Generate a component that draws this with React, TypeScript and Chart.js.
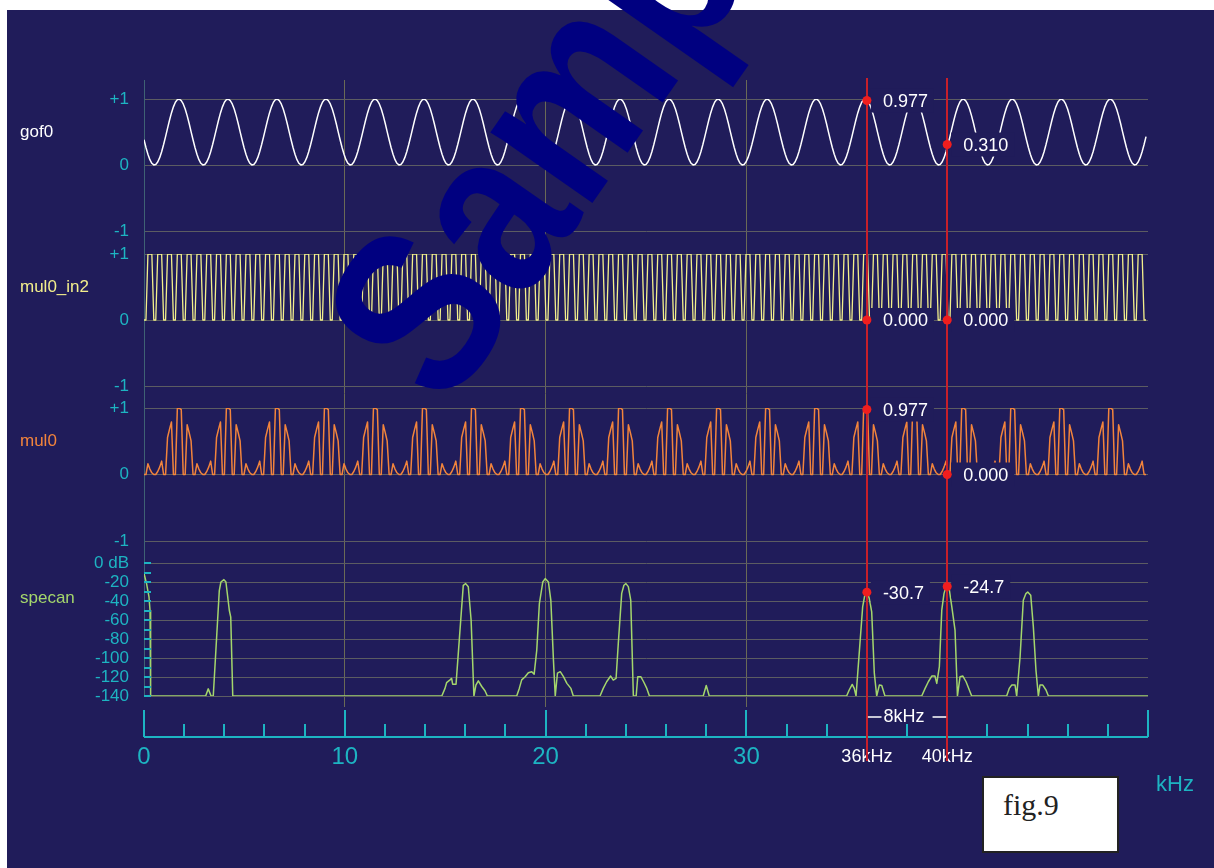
import React, { useEffect, useRef } from 'react';
import { Chart, registerables } from 'chart.js';

Chart.register(...registerables);

// ---------- data ----------
const X_MAX = 50; // kHz span of the common x axis

// gof0: sampled raised sine (512 samples across the window)
const gof0 = [
  0.382,0.265,0.162,0.081,0.026,0.001,0.008,0.045,0.111,0.201,0.310,0.431,0.556,0.678,0.789,0.881,0.950,0.990,0.999,0.976,0.925,0.848,0.748,0.633,0.506,
  0.382,0.265,0.162,0.081,0.026,0.001,0.008,0.045,0.111,0.201,0.310,0.431,0.556,0.678,0.789,0.881,0.950,0.990,0.999,0.976,0.925,0.848,0.748,0.633,0.506,
  0.382,0.265,0.162,0.081,0.026,0.001,0.008,0.045,0.111,0.201,0.310,0.431,0.556,0.678,0.789,0.881,0.950,0.990,0.999,0.976,0.925,0.848,0.748,0.633,0.506,
  0.382,0.265,0.162,0.081,0.026,0.001,0.008,0.045,0.111,0.201,0.310,0.431,0.556,0.678,0.789,0.881,0.950,0.990,0.999,0.976,0.925,0.848,0.748,0.633,0.506,
  0.382,0.265,0.162,0.081,0.026,0.001,0.008,0.045,0.111,0.201,0.310,0.431,0.556,0.678,0.789,0.881,0.950,0.990,0.999,0.976,0.925,0.848,0.748,0.633,0.506,
  0.382,0.265,0.162,0.081,0.026,0.001,0.008,0.045,0.111,0.201,0.310,0.431,0.556,0.678,0.789,0.881,0.950,0.990,0.999,0.976,0.925,0.848,0.748,0.633,0.506,
  0.382,0.265,0.162,0.081,0.026,0.001,0.008,0.045,0.111,0.201,0.310,0.431,0.556,0.678,0.789,0.881,0.950,0.990,0.999,0.976,0.925,0.848,0.748,0.633,0.506,
  0.382,0.265,0.162,0.081,0.026,0.001,0.008,0.045,0.111,0.201,0.310,0.431,0.556,0.678,0.789,0.881,0.950,0.990,0.999,0.976,0.925,0.848,0.748,0.633,0.506,
  0.382,0.265,0.162,0.081,0.026,0.001,0.008,0.045,0.111,0.201,0.310,0.431,0.556,0.678,0.789,0.881,0.950,0.990,0.999,0.976,0.925,0.848,0.748,0.633,0.506,
  0.382,0.265,0.162,0.081,0.026,0.001,0.008,0.045,0.111,0.201,0.310,0.431,0.556,0.678,0.789,0.881,0.950,0.990,0.999,0.976,0.925,0.848,0.748,0.633,0.506,
  0.382,0.265,0.162,0.081,0.026,0.001,0.008,0.045,0.111,0.201,0.310,0.431,0.556,0.678,0.789,0.881,0.950,0.990,0.999,0.976,0.925,0.848,0.748,0.633,0.506,
  0.382,0.265,0.162,0.081,0.026,0.001,0.008,0.045,0.111,0.201,0.310,0.431,0.556,0.678,0.789,0.881,0.950,0.990,0.999,0.976,0.925,0.848,0.748,0.633,0.506,
  0.382,0.265,0.162,0.081,0.026,0.001,0.008,0.045,0.111,0.201,0.310,0.431,0.556,0.678,0.789,0.881,0.950,0.990,0.999,0.976,0.925,0.848,0.748,0.633,0.506,
  0.382,0.265,0.162,0.081,0.026,0.001,0.008,0.045,0.111,0.201,0.310,0.431,0.556,0.678,0.789,0.881,0.950,0.990,0.999,0.976,0.925,0.848,0.748,0.633,0.506,
  0.382,0.265,0.162,0.081,0.026,0.001,0.008,0.045,0.111,0.201,0.310,0.431,0.556,0.678,0.789,0.881,0.950,0.990,0.999,0.976,0.925,0.848,0.748,0.633,0.506,
  0.382,0.265,0.162,0.081,0.026,0.001,0.008,0.045,0.111,0.201,0.310,0.431,0.556,0.678,0.789,0.881,0.950,0.990,0.999,0.976,0.925,0.848,0.748,0.633,0.506,
  0.382,0.265,0.162,0.081,0.026,0.001,0.008,0.045,0.111,0.201,0.310,0.431,0.556,0.678,0.789,0.881,0.950,0.990,0.999,0.976,0.925,0.848,0.748,0.633,0.506,
  0.382,0.265,0.162,0.081,0.026,0.001,0.008,0.045,0.111,0.201,0.310,0.431,0.556,0.678,0.789,0.881,0.950,0.990,0.999,0.976,0.925,0.848,0.748,0.633,0.506,
  0.382,0.265,0.162,0.081,0.026,0.001,0.008,0.045,0.111,0.201,0.310,0.431,0.556,0.678,0.789,0.881,0.950,0.990,0.999,0.976,0.925,0.848,0.748,0.633,0.506,
  0.382,0.265,0.162,0.081,0.026,0.001,0.008,0.045,0.111,0.201,0.310,0.431,0.556,0.678,0.789,0.881,0.950,0.990,0.999,0.976,0.925,0.848,0.748,0.633,0.506,
  0.382,0.265,0.162,0.081,0.026,0.001,0.008,0.045,0.111,0.201,0.310,0.431,
];

// mul0_in2: sampled square wave
const mul0In2 = [
  0,0,1,1,1,0,0,1,1,1,0,0,1,1,1,0,0,1,1,1,0,0,1,1,1,
  0,0,1,1,1,0,0,1,1,1,0,0,1,1,1,0,0,1,1,1,0,0,1,1,1,
  0,0,1,1,1,0,0,1,1,1,0,0,1,1,1,0,0,1,1,1,0,0,1,1,1,
  0,0,1,1,1,0,0,1,1,1,0,0,1,1,1,0,0,1,1,1,0,0,1,1,1,
  0,0,1,1,1,0,0,1,1,1,0,0,1,1,1,0,0,1,1,1,0,0,1,1,1,
  0,0,1,1,1,0,0,1,1,1,0,0,1,1,1,0,0,1,1,1,0,0,1,1,1,
  0,0,1,1,1,0,0,1,1,1,0,0,1,1,1,0,0,1,1,1,0,0,1,1,1,
  0,0,1,1,1,0,0,1,1,1,0,0,1,1,1,0,0,1,1,1,0,0,1,1,1,
  0,0,1,1,1,0,0,1,1,1,0,0,1,1,1,0,0,1,1,1,0,0,1,1,1,
  0,0,1,1,1,0,0,1,1,1,0,0,1,1,1,0,0,1,1,1,0,0,1,1,1,
  0,0,1,1,1,0,0,1,1,1,0,0,1,1,1,0,0,1,1,1,0,0,1,1,1,
  0,0,1,1,1,0,0,1,1,1,0,0,1,1,1,0,0,1,1,1,0,0,1,1,1,
  0,0,1,1,1,0,0,1,1,1,0,0,1,1,1,0,0,1,1,1,0,0,1,1,1,
  0,0,1,1,1,0,0,1,1,1,0,0,1,1,1,0,0,1,1,1,0,0,1,1,1,
  0,0,1,1,1,0,0,1,1,1,0,0,1,1,1,0,0,1,1,1,0,0,1,1,1,
  0,0,1,1,1,0,0,1,1,1,0,0,1,1,1,0,0,1,1,1,0,0,1,1,1,
  0,0,1,1,1,0,0,1,1,1,0,0,1,1,1,0,0,1,1,1,0,0,1,1,1,
  0,0,1,1,1,0,0,1,1,1,0,0,1,1,1,0,0,1,1,1,0,0,1,1,1,
  0,0,1,1,1,0,0,1,1,1,0,0,1,1,1,0,0,1,1,1,0,0,1,1,1,
  0,0,1,1,1,0,0,1,1,1,0,0,1,1,1,0,0,1,1,1,0,0,1,1,1,
  0,0,1,1,1,0,0,1,1,1,0,0,
];

// mul0: multiplier output
const mul0 = [
  0,0,0.162,0.081,0.026,0,0,0.045,0.111,0.201,0,0,0.556,0.678,0.789,0,0,0.990,0.999,0.976,0,0,0.748,0.633,0.506,
  0,0,0.162,0.081,0.026,0,0,0.045,0.111,0.201,0,0,0.556,0.678,0.789,0,0,0.990,0.999,0.976,0,0,0.748,0.633,0.506,
  0,0,0.162,0.081,0.026,0,0,0.045,0.111,0.201,0,0,0.556,0.678,0.789,0,0,0.990,0.999,0.976,0,0,0.748,0.633,0.506,
  0,0,0.162,0.081,0.026,0,0,0.045,0.111,0.201,0,0,0.556,0.678,0.789,0,0,0.990,0.999,0.976,0,0,0.748,0.633,0.506,
  0,0,0.162,0.081,0.026,0,0,0.045,0.111,0.201,0,0,0.556,0.678,0.789,0,0,0.990,0.999,0.976,0,0,0.748,0.633,0.506,
  0,0,0.162,0.081,0.026,0,0,0.045,0.111,0.201,0,0,0.556,0.678,0.789,0,0,0.990,0.999,0.976,0,0,0.748,0.633,0.506,
  0,0,0.162,0.081,0.026,0,0,0.045,0.111,0.201,0,0,0.556,0.678,0.789,0,0,0.990,0.999,0.976,0,0,0.748,0.633,0.506,
  0,0,0.162,0.081,0.026,0,0,0.045,0.111,0.201,0,0,0.556,0.678,0.789,0,0,0.990,0.999,0.976,0,0,0.748,0.633,0.506,
  0,0,0.162,0.081,0.026,0,0,0.045,0.111,0.201,0,0,0.556,0.678,0.789,0,0,0.990,0.999,0.976,0,0,0.748,0.633,0.506,
  0,0,0.162,0.081,0.026,0,0,0.045,0.111,0.201,0,0,0.556,0.678,0.789,0,0,0.990,0.999,0.976,0,0,0.748,0.633,0.506,
  0,0,0.162,0.081,0.026,0,0,0.045,0.111,0.201,0,0,0.556,0.678,0.789,0,0,0.990,0.999,0.976,0,0,0.748,0.633,0.506,
  0,0,0.162,0.081,0.026,0,0,0.045,0.111,0.201,0,0,0.556,0.678,0.789,0,0,0.990,0.999,0.976,0,0,0.748,0.633,0.506,
  0,0,0.162,0.081,0.026,0,0,0.045,0.111,0.201,0,0,0.556,0.678,0.789,0,0,0.990,0.999,0.976,0,0,0.748,0.633,0.506,
  0,0,0.162,0.081,0.026,0,0,0.045,0.111,0.201,0,0,0.556,0.678,0.789,0,0,0.990,0.999,0.976,0,0,0.748,0.633,0.506,
  0,0,0.162,0.081,0.026,0,0,0.045,0.111,0.201,0,0,0.556,0.678,0.789,0,0,0.990,0.999,0.976,0,0,0.748,0.633,0.506,
  0,0,0.162,0.081,0.026,0,0,0.045,0.111,0.201,0,0,0.556,0.678,0.789,0,0,0.990,0.999,0.976,0,0,0.748,0.633,0.506,
  0,0,0.162,0.081,0.026,0,0,0.045,0.111,0.201,0,0,0.556,0.678,0.789,0,0,0.990,0.999,0.976,0,0,0.748,0.633,0.506,
  0,0,0.162,0.081,0.026,0,0,0.045,0.111,0.201,0,0,0.556,0.678,0.789,0,0,0.990,0.999,0.976,0,0,0.748,0.633,0.506,
  0,0,0.162,0.081,0.026,0,0,0.045,0.111,0.201,0,0,0.556,0.678,0.789,0,0,0.990,0.999,0.976,0,0,0.748,0.633,0.506,
  0,0,0.162,0.081,0.026,0,0,0.045,0.111,0.201,0,0,0.556,0.678,0.789,0,0,0.990,0.999,0.976,0,0,0.748,0.633,0.506,
  0,0,0.162,0.081,0.026,0,0,0.045,0.111,0.201,0,0,
];

// specan: spectrum vertices (kHz, dB)
const specKhz = [
  0, 0.13, 0.25, 0.30, 0.33,
  3.07, 3.20, 3.34, 3.45, 3.75, 3.83, 3.98, 4.08, 4.25, 4.32, 4.42,
  14.83, 14.99, 15.07, 15.24, 15.32, 15.37, 15.54, 15.90, 16.02, 16.15, 16.29, 16.43, 16.53, 16.65, 16.82, 16.98, 17.10,
  18.56, 18.69, 18.81, 18.98, 19.14, 19.31, 19.43, 19.56, 19.69, 19.86, 19.98, 20.14, 20.26, 20.39, 20.48, 20.59, 20.73, 20.89, 21.06, 21.26, 21.38,
  22.71, 22.87, 23.04, 23.24, 23.37, 23.51, 23.62, 23.79, 23.90, 24.00, 24.12, 24.24, 24.37, 24.51, 24.59, 24.74, 24.88, 25.04, 25.17,
  27.85, 28.00, 28.15,
  34.99, 35.12, 35.27, 35.37, 35.46, 35.63, 35.79, 35.91, 35.99, 36.12, 36.24, 36.37, 36.49, 36.62, 36.74, 36.90,
  38.73, 38.90, 39.06, 39.23, 39.39, 39.48, 39.61, 39.73, 39.84, 39.98, 40.11, 40.23, 40.39, 40.51, 40.64, 40.78, 40.94, 41.22,
  42.96, 43.09, 43.21, 43.38, 43.46, 43.63, 43.79, 43.92, 44.01, 44.16, 44.29, 44.42, 44.54, 44.62, 44.76, 44.92, 45.04,
  50,
];
const specDb = [
  -11, -22, -36, -50, -140,
  -140, -132.5, -140, -140, -29, -20, -17.5, -20, -50, -57, -140,
  -140, -132, -126, -123, -121.5, -127.5, -127.5, -23.5, -21.7, -25, -60, -140, -128.5, -124, -130, -134.5, -140,
  -140, -132, -123, -119.7, -115.5, -114.4, -117, -91.7, -42.7, -20, -16.4, -20, -39, -102, -140, -116, -114.4, -119.7, -126.7, -132, -140,
  -140, -132, -125, -119, -123.2, -121.5, -84.7, -32, -23.4, -21.7, -24.9, -39, -140, -140, -119.7, -119.7, -125, -132, -140,
  -140, -129, -140,
  -140, -133.7, -127.8, -132, -140, -91.7, -46.2, -32.2, -29.4, -37.4, -51.5, -116, -140, -128.5, -129, -140,
  -140, -132, -125, -119, -119, -126.7, -109, -49.7, -32.2, -21.7, -28.7, -46.2, -70.7, -140, -119.7, -119, -125, -140,
  -140, -132, -128.5, -128.5, -140, -98.7, -39.2, -32.2, -30.5, -33.9, -67.2, -112.7, -140, -128.5, -128.5, -133.7, -140,
  -140,
];

// cursors and read-outs
const cursorKhz = [36, 40];
const cursorTickLabels = ['36kHz', '40kHz'];
const gofRead = [0.977, 0.310];
const in2Read = [0.000, 0.000];
const mulRead = [0.977, 0.000];
const specRead = [-30.7, -24.7];
const spanLabel = '8kHz';

// axis ticks
const xNumberLabels: Record<number, string> = { 0: '0', 10: '10', 20: '20', 30: '30' };
const specMinorTicks = [0, -10, -20, -30, -40, -50, -60, -70, -80, -90, -100, -110, -120, -130, -140];

// ---------- styles ----------
const NAVY = '#201c5a';
const TEAL = '#1db4c2';
const GRID = '#5c5c62';
const VGRID = '#6a6a56';
const AXIS = '#3f6274';
const WHITE = '#ffffff';
const YELLOW = '#f3ef8c';
const ORANGE = '#f2843c';
const GREEN = '#a4d66c';
const RED_LINE = '#c81f2a';
const RED_DOT = '#f01e1e';
const FONT = "'Liberation Sans', Arial, Helvetica, sans-serif";

const panels = [
  { axis: 'yGof', name: 'gof0', color: WHITE, nameAt: 0.5, reads: gofRead, digits: 3 },
  { axis: 'yIn2', name: 'mul0_in2', color: YELLOW, nameAt: 0.5, reads: in2Read, digits: 3 },
  { axis: 'yMul', name: 'mul0', color: ORANGE, nameAt: 0.5, reads: mulRead, digits: 3 },
  { axis: 'ySpec', name: 'specan', color: GREEN, nameAt: -37, reads: specRead, digits: 1 },
];

const timePoints = (arr: number[]) => arr.map((v, i) => ({ x: (i * X_MAX) / arr.length, y: v }));

const overlayPlugin = {
  id: 'overlay',
  afterDatasetsDraw(chart: any) {
    const { ctx, chartArea: area, scales } = chart;
    const xs = scales.x;
    const axisY = area.bottom + 30;
    ctx.save();

    // dB minor ticks on the spectrum axis
    ctx.strokeStyle = TEAL;
    ctx.lineWidth = 2;
    specMinorTicks.forEach((v) => {
      const y = Math.round(scales.ySpec.getPixelForValue(v));
      ctx.beginPath();
      ctx.moveTo(area.left, y);
      ctx.lineTo(area.left + 7, y);
      ctx.stroke();
    });

    // bottom frequency axis line + ticks
    ctx.beginPath();
    ctx.moveTo(xs.getPixelForValue(0), axisY);
    ctx.lineTo(xs.getPixelForValue(X_MAX), axisY);
    ctx.stroke();
    xs.ticks.forEach((t: any) => {
      const x = Math.round(xs.getPixelForValue(t.value));
      const top = t.value % 10 === 0 ? area.bottom + 3 : area.bottom + 17;
      ctx.beginPath();
      ctx.moveTo(x, top);
      ctx.lineTo(x, axisY);
      ctx.stroke();
    });

    // cursor lines
    ctx.strokeStyle = RED_LINE;
    ctx.lineWidth = 2;
    cursorKhz.forEach((c) => {
      const x = Math.round(xs.getPixelForValue(c));
      ctx.beginPath();
      ctx.moveTo(x, area.top - 2);
      ctx.lineTo(x, axisY + 24);
      ctx.stroke();
    });

    // span dimension
    const x1 = xs.getPixelForValue(cursorKhz[0]);
    const x2 = xs.getPixelForValue(cursorKhz[1]);
    const dy = area.bottom + 10;
    ctx.font = `18px ${FONT}`;
    const sw = ctx.measureText(spanLabel).width;
    const mid = (x1 + x2) / 2 - 3;
    ctx.strokeStyle = WHITE;
    ctx.lineWidth = 1.5;
    ctx.beginPath();
    ctx.moveTo(x1 + 1, dy);
    ctx.lineTo(mid - sw / 2 - 2, dy);
    ctx.moveTo(mid + sw / 2 + 8, dy);
    ctx.lineTo(x2 - 1, dy);
    ctx.stroke();
    ctx.fillStyle = WHITE;
    ctx.textAlign = 'center';
    ctx.textBaseline = 'middle';
    ctx.fillText(spanLabel, mid, dy);

    // read-out boxes + values
    ctx.font = `18px ${FONT}`;
    ctx.textAlign = 'left';
    ctx.textBaseline = 'middle';
    panels.forEach((p) => {
      const ys = scales[p.axis];
      p.reads.forEach((r, i) => {
        const x = xs.getPixelForValue(cursorKhz[i]);
        const y = ys.getPixelForValue(r);
        const txt = r.toFixed(p.digits);
        const tw = ctx.measureText(txt).width;
        ctx.fillStyle = NAVY;
        ctx.fillRect(x + 4, y - 12, tw + 18, 24);
        ctx.fillStyle = WHITE;
        ctx.fillText(txt, x + 16, y + 1.5);
      });
    });
    // dots
    ctx.fillStyle = RED_DOT;
    panels.forEach((p) => {
      const ys = scales[p.axis];
      p.reads.forEach((r, i) => {
        const x = xs.getPixelForValue(cursorKhz[i]);
        const y = ys.getPixelForValue(r);
        ctx.beginPath();
        ctx.arc(x, y, 4.5, 0, Math.PI * 2);
        ctx.fill();
      });
    });

    // series names
    ctx.font = `17px ${FONT}`;
    panels.forEach((p) => {
      ctx.fillStyle = p.color;
      ctx.fillText(p.name, 20, scales[p.axis].getPixelForValue(p.nameAt));
    });

    // unit
    ctx.fillStyle = TEAL;
    ctx.font = `22px ${FONT}`;
    ctx.fillText('kHz', area.right + 8, axisY + 48);
    ctx.restore();
  },
  afterDraw(chart: any) {
    const ctx = chart.ctx;
    ctx.save();
    ctx.translate(446, 412);
    ctx.rotate((-55 * Math.PI) / 180);
    ctx.scale(0.84, 1);
    ctx.fillStyle = '#000080';
    ctx.font = `bold 235px ${FONT}`;
    ctx.textAlign = 'left';
    ctx.textBaseline = 'alphabetic';
    ctx.fillText('Sample', 0, 0);
    ctx.restore();
  },
};

const fitWidth = (s: any) => {
  s.width = 144;
};

const timeAxis = (weight: number) => ({
  type: 'linear',
  position: 'left',
  stack: 'panels',
  stackWeight: weight,
  min: -1,
  max: 1,
  afterFit: fitWidth,
  border: { display: true, color: AXIS, width: 1 },
  grid: { color: GRID, drawTicks: false, lineWidth: 1 },
  ticks: {
    stepSize: 1,
    autoSkip: false,
    padding: 15,
    color: TEAL,
    font: { size: 17, family: FONT },
    callback: (v: number) => (v > 0 ? '+' + v : String(v)),
  },
});

const spacerAxis = (weight: number, border: boolean) => ({
  type: 'linear',
  position: 'left',
  stack: 'panels',
  stackWeight: weight,
  min: 0,
  max: 1,
  afterFit: fitWidth,
  border: { display: border, color: AXIS, width: 1 },
  grid: { display: false },
  ticks: { display: false },
});

export default function App() {
  const canvasRef = useRef<HTMLCanvasElement | null>(null);

  useEffect(() => {
    if (!canvasRef.current) return;
    const chart = new Chart(canvasRef.current, {
      type: 'line',
      data: {
        datasets: [
          { label: 'gof0', data: timePoints(gof0), yAxisID: 'yGof', borderColor: WHITE, borderWidth: 1.5 },
          { label: 'mul0_in2', data: timePoints(mul0In2), yAxisID: 'yIn2', borderColor: YELLOW, borderWidth: 1.3 },
          { label: 'mul0', data: timePoints(mul0), yAxisID: 'yMul', borderColor: ORANGE, borderWidth: 1.5 },
          {
            label: 'specan',
            data: specKhz.map((k, i) => ({ x: k, y: specDb[i] })),
            yAxisID: 'ySpec',
            borderColor: GREEN,
            borderWidth: 1.5,
          },
        ],
      } as any,
      options: {
        animation: false,
        responsive: false,
        events: [],
        layout: { padding: { top: 80, right: 66, left: 0, bottom: 0 } },
        elements: { point: { radius: 0 }, line: { tension: 0, borderJoinStyle: 'round' } },
        plugins: { legend: { display: false }, tooltip: { enabled: false }, title: { display: false } },
        scales: {
          x: {
            type: 'linear',
            min: 0,
            max: X_MAX,
            afterFit: (s: any) => {
              s.height = 161;
            },
            border: { display: false },
            grid: {
              drawTicks: false,
              lineWidth: 1,
              color: (c: any) => {
                const v = c.tick ? c.tick.value : -1;
                return v > 0 && v < X_MAX && v % 10 === 0 ? VGRID : 'rgba(0,0,0,0)';
              },
            },
            ticks: {
              stepSize: 2,
              autoSkip: false,
              maxRotation: 0,
              minRotation: 0,
              padding: 36,
              callback: (v: number) => {
                const ci = cursorKhz.indexOf(v);
                if (ci >= 0) return cursorTickLabels[ci];
                return xNumberLabels[v] ?? '';
              },
              color: (c: any) => (c.tick && cursorKhz.indexOf(c.tick.value) >= 0 ? WHITE : TEAL),
              font: (c: any) =>
                c.tick && cursorKhz.indexOf(c.tick.value) >= 0
                  ? { size: 18, family: FONT, lineHeight: 1.6 }
                  : { size: 24, family: FONT, lineHeight: 1.2 },
            },
          },
          // declared bottom-to-top (stack places the last declared at the top)
          yBottom: spacerAxis(11, false),
          ySpec: {
            type: 'linear',
            position: 'left',
            stack: 'panels',
            stackWeight: 133,
            min: -140,
            max: 0,
            afterFit: fitWidth,
            border: { display: true, color: AXIS, width: 1 },
            grid: { color: GRID, drawTicks: false, lineWidth: 1 },
            ticks: {
              stepSize: 20,
              autoSkip: false,
              padding: 15,
              color: TEAL,
              font: { size: 17, family: FONT },
              callback: (v: number) => (v === 0 ? '0 dB' : String(v)),
            },
          },
          yGap3: spacerAxis(22, true),
          yMul: timeAxis(133),
          yGap2: spacerAxis(22, true),
          yIn2: timeAxis(132),
          yGap1: spacerAxis(23, true),
          yGof: timeAxis(132),
          yTop: spacerAxis(19, true),
        },
      } as any,
      plugins: [overlayPlugin],
    });
    return () => chart.destroy();
  }, []);

  return (
    <div style={{ position: 'absolute', left: 0, top: 0, width: 1214, height: 868, overflow: 'hidden' }}>
      <div style={{ position: 'absolute', left: 7, top: 10, width: 1207, height: 858, background: NAVY }} />
      <canvas
        ref={canvasRef}
        width={1214}
        height={868}
        style={{ position: 'absolute', left: 0, top: 0, width: 1214, height: 868, display: 'block' }}
      />
      <div
        style={{
          position: 'absolute',
          left: 982,
          top: 776,
          width: 137,
          height: 77,
          boxSizing: 'border-box',
          background: '#ffffff',
          border: '2px solid #222222',
        }}
      >
        <div
          style={{
            position: 'absolute',
            left: 19,
            top: 12,
            fontFamily: "'Liberation Serif', 'Times New Roman', serif",
            fontSize: 30,
            lineHeight: '30px',
            color: '#222222',
          }}
        >
          fig.9
        </div>
      </div>
    </div>
  );
}
